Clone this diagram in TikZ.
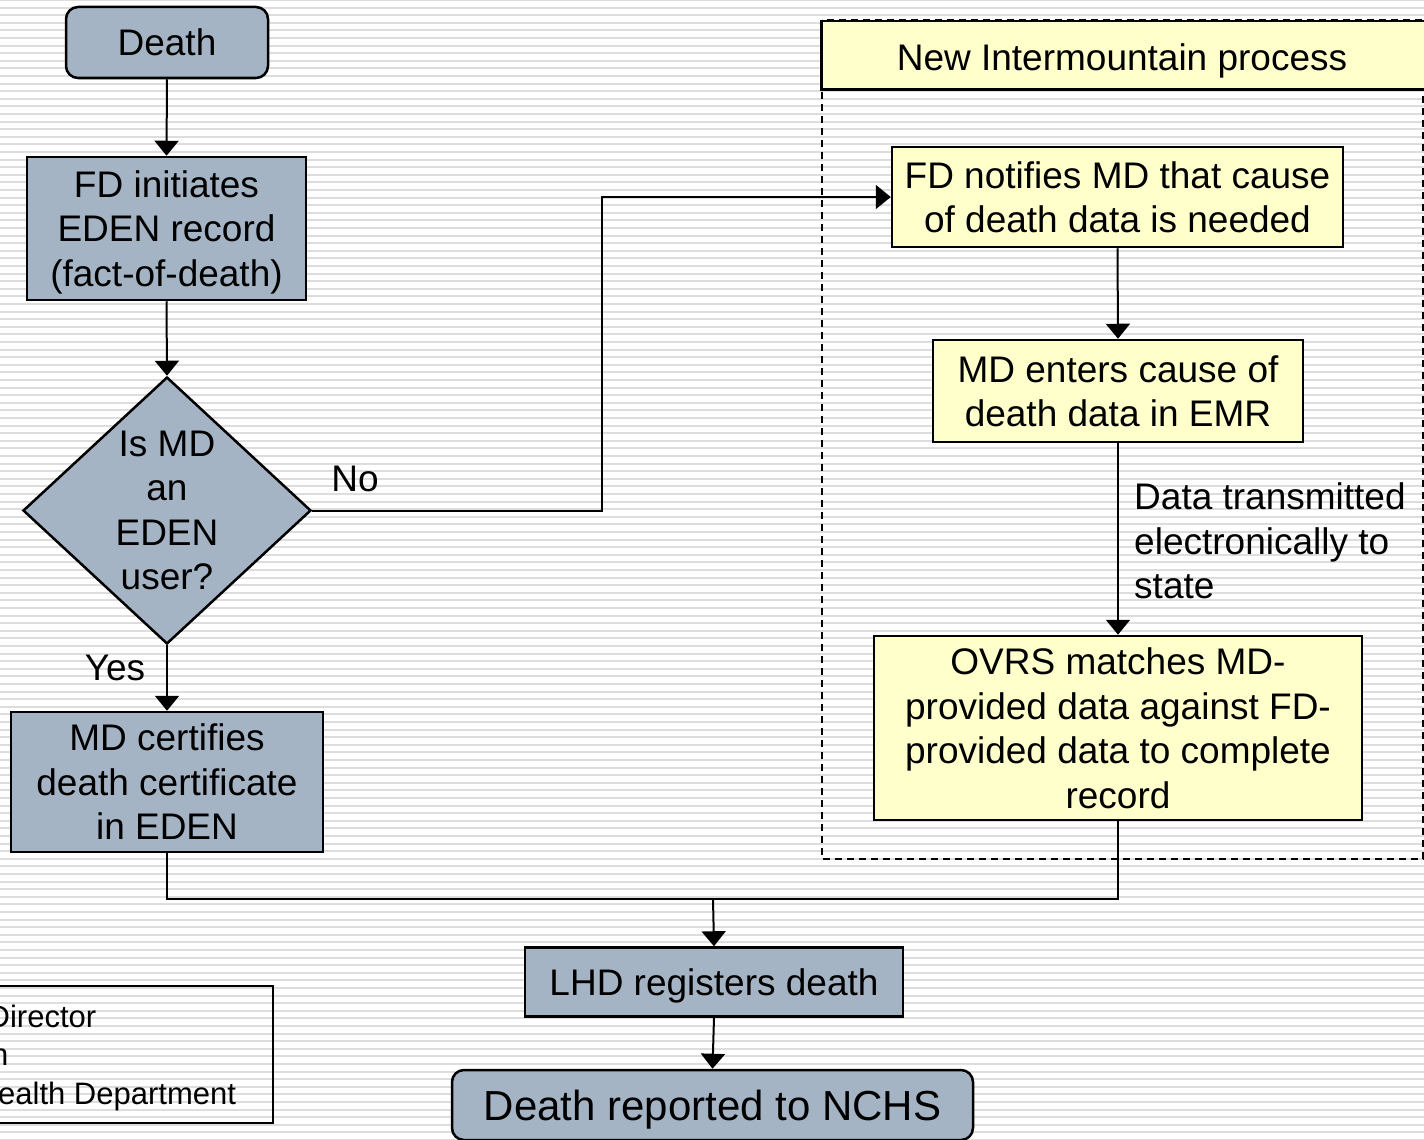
\documentclass[tikz,border=0pt]{standalone}
\usepackage{fontspec}
\setmainfont{Liberation Sans}
\usetikzlibrary{shapes.geometric,arrows.meta}
\definecolor{stripe}{RGB}{221,221,221}
\definecolor{bluegrey}{RGB}{165,180,196}
\definecolor{paleyellow}{RGB}{255,255,204}
\tikzset{
  base/.style={draw=black, line width=2.5pt, inner sep=4pt, align=center, text depth=0pt,
    font=\fontsize{37}{44.5}\selectfont},
  greybox/.style={base, fill=bluegrey},
  yellowbox/.style={base, fill=paleyellow},
  conn/.style={line width=2pt, draw=black},
  arr/.style={conn, -{Triangle[width=24pt,length=15pt]}},
  lbl/.style={font=\fontsize{37}{44.5}\selectfont, align=left, inner sep=0pt},
  legtext/.style={font=\fontsize{31}{38.5}\selectfont, inner sep=0pt, anchor=base west}
}
\begin{document}
\begin{tikzpicture}[x=1pt,y=-1pt]
\useasboundingbox (0,0) rectangle (1424,1140);
\clip (0,0) rectangle (1424,1140);
\fill[white] (0,0) rectangle (1424,1140);
\foreach \k in {0,...,150} {
  \fill[stripe] (0,\k*7.6-1) rectangle (1424,\k*7.6+1);
}
% Intermountain region
\draw[line width=2pt, dashed, dash pattern=on 7pt off 5pt] (822,20) rectangle (1423,859);
\node[yellowbox, anchor=north west, minimum width=620pt, minimum height=68pt, inner sep=0pt] (hdr) at (820,20) {};
\node[lbl, text depth=0pt] (hdrtext) at (1122,57) {New Intermountain process};

% left column
\node[greybox, rounded corners=12pt, minimum width=202pt, minimum height=71pt] (death) at (167,42.5) {Death};
\node[greybox, minimum width=279pt, minimum height=143pt] (fd) at (166.5,228.5) {FD initiates\\EDEN record\\(fact-of-death)};
\node[greybox, diamond, shape aspect=1.08, inner sep=0pt, minimum width=288pt, minimum height=267pt] (q) at (167,510.5) {Is MD\\an\\EDEN\\user?};
\node[greybox, minimum width=312pt, minimum height=140pt] (mdc) at (167,782) {MD certifies\\death certificate\\in EDEN};

% right column
\node[yellowbox, minimum width=451pt, minimum height=100pt] (notify) at (1117.5,197) {FD notifies MD that cause\\of death data is needed};
\node[yellowbox, minimum width=370pt, minimum height=102pt] (mde) at (1118,391) {MD enters cause of\\death data in EMR};
\node[yellowbox, minimum width=488pt, minimum height=184pt] (ovrs) at (1118,728) {OVRS matches MD-\\provided data against FD-\\provided data to complete\\record};

% bottom
\node[greybox, minimum width=378pt, minimum height=69pt] (lhd) at (714,982) {LHD registers death};
\node[greybox, rounded corners=12pt, minimum width=521pt, minimum height=70pt, font=\fontsize{42}{50}\selectfont] (nchs) at (712.5,1105) {Death reported to NCHS};

% connectors
\draw[arr] (death.south) -- (fd.north);
\draw[arr] (fd.south) -- (q.north);
\draw[arr] (q.south) -- (mdc.north);
\coordinate (bend) at (602,510.5);
\draw[arr] (q.east) -- (bend) |- (notify.west);
\node[lbl] (no) at (355,479) {No};
\node[lbl] (yes) at (115,668) {Yes};
\draw[arr] (notify.south) -- (mde.north);
\draw[arr] (mde.south) -- (ovrs.north);
\node[lbl, anchor=west] (dt) at (1134,541) {Data transmitted\\electronically to\\state};
\coordinate (junction) at (713,899);
\draw[conn] (mdc.south) -- (mdc.south |- junction) -- (ovrs.south |- junction) -- (ovrs.south);
\draw[arr] (junction) -- (lhd.north);
\draw[arr] (lhd.south) -- (nchs.north);

% legend
\draw[line width=2.5pt] (-10,986) rectangle (273,1123);
\node[legtext] (l1) at (-12.5,1027) {Director};
\node[legtext] (l2) at (-9,1065.5) {n};
\node[legtext] (l3) at (-2,1104) {ealth Department};
\end{tikzpicture}
\end{document}
